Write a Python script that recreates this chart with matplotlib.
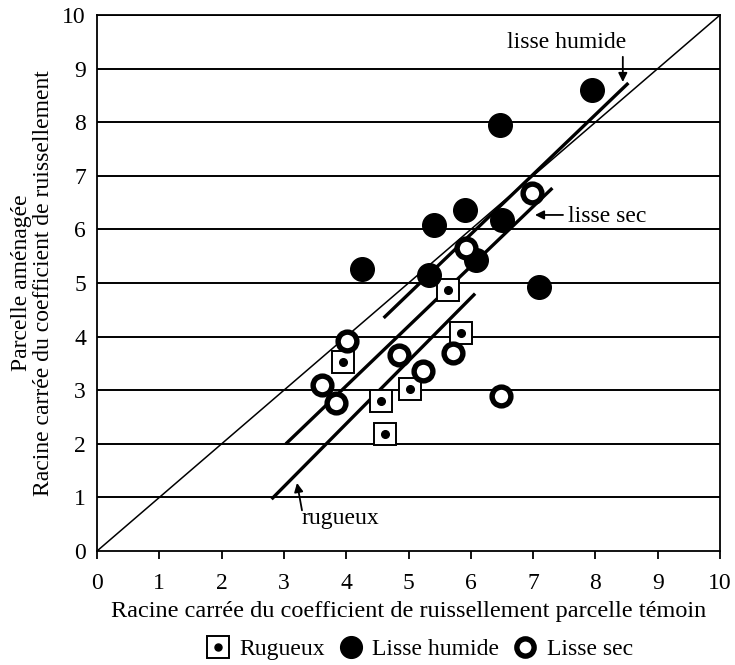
import numpy as np
import matplotlib
matplotlib.use("Agg")
import matplotlib.pyplot as plt
from matplotlib.legend_handler import HandlerTuple

plt.rcParams['font.family'] = ['Liberation Serif', 'DejaVu Serif']

# points
rug_x = [5.63, 5.84, 3.95, 5.02, 4.56, 4.62]
rug_y = [4.87, 4.07, 3.53, 3.02, 2.80, 2.18]

hum_x = [7.95, 6.47, 5.91, 5.41, 6.50, 4.25, 5.33, 6.08, 7.09]
hum_y = [8.60, 7.95, 6.36, 6.08, 6.18, 5.26, 5.15, 5.43, 4.93]

sec_x = [6.98, 5.92, 4.01, 4.85, 5.23, 5.71, 3.61, 3.84, 6.48]
sec_y = [6.68, 5.65, 3.92, 3.66, 3.36, 3.69, 3.10, 2.76, 2.89]

# fitted lines (end points)
line_rug_x = [2.82, 6.05]
line_rug_y = [0.99, 4.78]
line_sec_x = [3.05, 7.29]
line_sec_y = [2.02, 6.75]
line_hum_x = [4.62, 8.51]
line_hum_y = [4.37, 8.71]

ticks = list(range(0, 11))
fs = 17

fig = plt.figure(figsize=(7.35, 6.65), dpi=100)
ax = fig.add_axes([0.132, 0.1714, 0.8476, 0.806])

for t in ticks[1:]:
    ax.axhline(t, color='black', lw=1.4, zorder=1)
ax.plot([0, 10], [0, 10], color='black', lw=1.1, zorder=2)

ax.plot(line_rug_x, line_rug_y, color='black', lw=2.4, zorder=2)
ax.plot(line_sec_x, line_sec_y, color='black', lw=2.4, zorder=2)
ax.plot(line_hum_x, line_hum_y, color='black', lw=2.4, zorder=2)

sq = ax.plot(rug_x, rug_y, ls='none', marker='s', ms=16.5, mfc='white',
             mec='black', mew=1.4, zorder=4)[0]
dot = ax.plot(rug_x, rug_y, ls='none', marker='o', ms=5.5, color='black', zorder=5)[0]
hum = ax.plot(hum_x, hum_y, ls='none', marker='o', ms=17, color='black', zorder=4)[0]
sec = ax.plot(sec_x, sec_y, ls='none', marker='o', ms=13.5, mfc='white',
              mec='black', mew=3.9, zorder=4)[0]

arrow = dict(arrowstyle='-|>', color='black', lw=1.3, shrinkA=0, shrinkB=0,
             mutation_scale=13)
ax.text(7.54, 9.48, 'lisse humide', ha='center', va='center', fontsize=fs)
ax.annotate('', xy=(8.44, 8.75), xytext=(8.44, 9.22), arrowprops=arrow)
ax.text(7.56, 6.24, 'lisse sec', ha='left', va='center', fontsize=fs)
ax.annotate('', xy=(7.03, 6.27), xytext=(7.48, 6.27), arrowprops=arrow)
ax.text(3.90, 0.60, 'rugueux', ha='center', va='center', fontsize=fs)
ax.annotate('', xy=(3.21, 1.27), xytext=(3.29, 0.76), arrowprops=arrow)

ax.set_xlim(0, 10)
ax.set_ylim(0, 10)
ax.set_xticks(ticks)
ax.set_yticks(ticks)
ax.tick_params(axis='x', direction='out', length=6, width=1.3, labelsize=fs, pad=10)
ax.tick_params(axis='y', length=0, labelsize=fs, pad=8)
for s in ax.spines.values():
    s.set_linewidth(1.3)

ax.set_xlabel('Racine carrée du coefficient de ruissellement parcelle témoin',
              fontsize=17.5, labelpad=5)
ax.set_ylabel('Parcelle aménagée\nRacine carrée du coefficient de ruissellement',
              fontsize=fs, labelpad=6, linespacing=1.05)

fig.legend([(sq, dot), hum, sec], ['Rugueux', 'Lisse humide', 'Lisse sec'],
           handler_map={tuple: HandlerTuple(ndivide=1)},
           loc='center', bbox_to_anchor=(0.571, 0.023), ncol=3, frameon=False,
           fontsize=fs, handlelength=1.0, handletextpad=0.4, columnspacing=0.6,
           markerscale=0.92)

fig.savefig('out.png', dpi=100)
